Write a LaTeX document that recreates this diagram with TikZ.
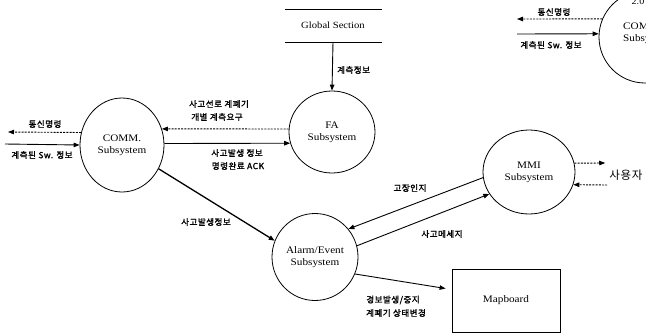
\documentclass[tikz,border=0pt]{standalone}
\usepackage{fontspec}
\setmainfont{Liberation Serif}[FakeStretch=1.12]
\newfontfamily\kr{Noto Sans CJK KR}[LetterSpace=6,AutoFakeBold=1.5]
\usetikzlibrary{arrows.meta,shapes.geometric}
\begin{document}
\begin{tikzpicture}[x=1pt,y=-1pt,
  proc/.style={draw,ellipse,line width=0.8pt,inner sep=0pt,align=center,font=\fontsize{10}{12}\selectfont},
  lbl/.style={font=\kr\bfseries\fontsize{8.5}{10}\selectfont,inner sep=0pt},
  flow/.style={line width=0.9pt,-{Triangle[length=6pt,width=4.5pt]}},
  dflow/.style={flow,dash pattern=on 2pt off 1.2pt},
]
\useasboundingbox (0,0) rectangle (646,335);
\begin{scope}
\clip (0,0) rectangle (646,335);
% nodes
\node[proc,minimum width=84pt,minimum height=94pt] (comm) at (122,145) {COMM.\\Subsystem};
\node[proc,minimum width=86pt,minimum height=82pt] (fa) at (332,132) {FA\\Subsystem};
\node[proc,minimum width=86pt,minimum height=87pt] (alarm) at (315,257) {Alarm/Event\\Subsystem};
\node[proc,minimum width=92pt,minimum height=84pt] (mmi) at (529,172) {MMI\\Subsystem};
\node[proc,minimum width=92pt,minimum height=92pt] (commb) at (645,37) {};
\node[inner sep=0pt,font=\fontsize{10}{12}\selectfont,align=left,anchor=west] (commbt) at (623,33) {COMM.\\Subsystem};
\node[inner sep=0pt,font=\fontsize{9}{10}\selectfont] (num) at (638,2) {2.0};
\node[draw,line width=0.8pt,minimum width=108pt,minimum height=63pt,font=\fontsize{10}{12}\selectfont] (map) at (506,300.5) {Mapboard};
% global section store
\coordinate (gsl1) at (285,9); \coordinate (gsr1) at (382,9);
\coordinate (gsl2) at (285,42); \coordinate (gsr2) at (382,42);
\draw[line width=0.9pt] (gsl1) -- (gsr1);
\draw[line width=0.9pt] (gsl2) -- (gsr2);
\node[font=\fontsize{9.5}{11}\selectfont,inner sep=0pt] (gs) at (333,25) {Global Section};
\coordinate (gsb) at (333,42);
\draw[flow] (gsb) -- (fa.north);
\node[lbl,anchor=west] (l1) at (337,70) {계측정보};
% COMM <-> FA
\draw[dflow] (fa.176) -- (comm.22);
\draw[flow] (comm.2) -- (fa.195);
\node[lbl] (l2) at (219,104) {사고선로 계폐기};
\node[lbl] (l3) at (217,117) {개별 계측요구};
\node[lbl] (l4) at (237,153) {사고발생 정보};
\node[lbl] (l5) at (238,166) {명령완료 ACK};
% left external
\coordinate (le1) at (8,132);
\coordinate (le2) at (5,144);
\draw[dflow] (comm.163) -- (le1);
\draw[flow] (le2) -- (comm.180);
\node[lbl] (l6) at (45,124) {통신명령};
\node[lbl] (l7) at (42,155) {계측된 Sw. 정보};
% COMM -> Alarm
\draw[flow,line width=1.3pt] (comm.-33) -- (alarm.158);
\node[lbl] (l8) at (206,222) {사고발생정보};
% MMI <-> Alarm
\draw[flow] (mmi.187) -- (alarm.40);
\draw[flow] (alarm.15) -- (mmi.209);
\node[lbl] (l9) at (410,188) {고장인지};
\node[lbl] (l10) at (442,234) {사고메세지};
% Alarm -> Mapboard
\draw[flow] (alarm.-23) -- ([yshift=12pt,xshift=-6pt]map.west);
\node[lbl] (l11) at (393,300) {경보발생/중지};
\node[lbl] (l12) at (396,313) {계폐기 상태변경};
% MMI <-> user
\node[font=\kr\fontsize{11.5}{13}\selectfont,inner sep=0pt] (user) at (626,175) {사용자};
\draw[dflow] (mmi.11) -- ([yshift=12pt,xshift=-4pt]user.west);
\draw[dflow] ([yshift=-10pt,xshift=-2pt]user.west) -- (mmi.-16);
% top right external
\coordinate (te1) at (517,19);
\coordinate (te2) at (517,34);
\draw[dflow] (commb.157) -- (te1);
\draw[flow] (te2) -- (commb.176);
\node[lbl] (l13) at (554,12) {통신명령};
\node[lbl] (l14) at (551,45) {계측된 Sw. 정보};
\end{scope}
\end{tikzpicture}
\end{document}
